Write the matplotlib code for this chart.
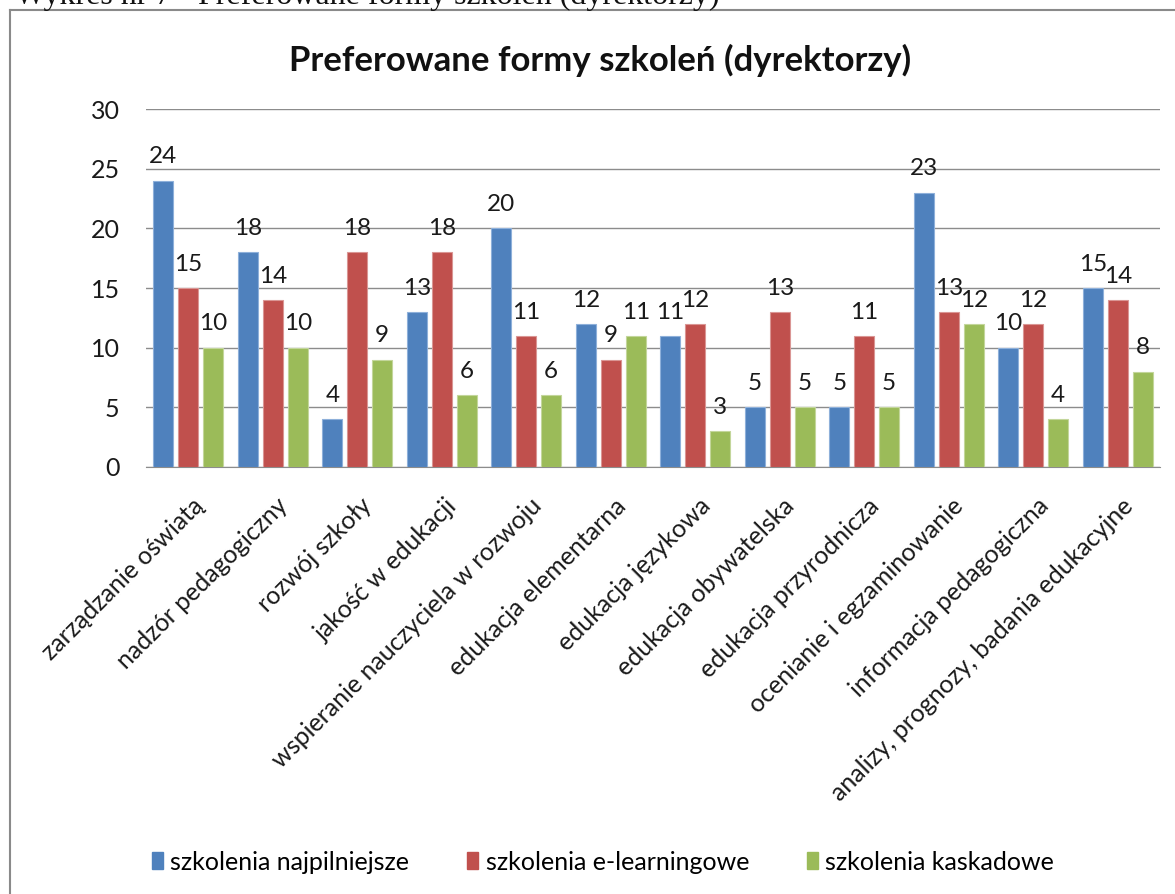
import matplotlib
matplotlib.use("Agg")
import matplotlib.pyplot as plt
import numpy as np
from matplotlib.lines import Line2D
import matplotlib.transforms as mtransforms

categories = ["zarządzanie oświatą", "nadzór pedagogiczny", "rozwój szkoły",
              "jakość w edukacji", "wspieranie nauczyciela w rozwoju",
              "edukacja elementarna", "edukacja językowa", "edukacja obywatelska",
              "edukacja przyrodnicza", "ocenianie i egzaminowanie",
              "informacja pedagogiczna", "analizy, prognozy, badania edukacyjne"]
series_names = ["szkolenia najpilniejsze", "szkolenia e-learningowe", "szkolenia kaskadowe"]
najpilniejsze = [24, 18, 4, 13, 20, 12, 11, 5, 5, 23, 10, 15]
elearning = [15, 14, 18, 18, 11, 9, 12, 13, 11, 13, 12, 14]
kaskadowe = [10, 10, 9, 6, 6, 11, 3, 5, 5, 12, 4, 8]
yticks = [0, 5, 10, 15, 20, 25, 30]

colors = ["#4F81BD", "#C0504D", "#9BBB59"]
edges = ["#8EB0DA", "#DA9694", "#C3D69B"]

plt.rcParams['font.family'] = ['Lato', 'DejaVu Sans']

W, H = 1175, 894
fig = plt.figure(figsize=(W/100, H/100), dpi=100)
ax = fig.add_axes([146/W, 1-467/H, (1160-146)/W, (467-109)/H])

x = np.arange(len(categories))
bw = 0.235
pitch = 0.295
data = [najpilniejsze, elearning, kaskadowe]
for i, (vals, c, e) in enumerate(zip(data, colors, edges)):
    pos = x + (i-1)*pitch
    ax.bar(pos, vals, width=bw, color=c, edgecolor=e, linewidth=0.8, zorder=3,
           label=series_names[i])
    for p, v in zip(pos, vals):
        ax.annotate(str(v), (p, v), xytext=(0, 9.5), textcoords='offset points',
                    ha='center', va='bottom', fontsize=17.5, color='#1a1a1a', zorder=4)

ax.set_xlim(-0.5, len(categories)-0.5)
ax.set_ylim(0, 30)
ax.set_yticks(yticks)
ax.yaxis.grid(True, color='#8c8c8c', linewidth=1, zorder=0)
for s in ['top', 'right', 'left']:
    ax.spines[s].set_visible(False)
ax.spines['bottom'].set_color('#8c8c8c')
ax.tick_params(axis='y', length=0, pad=19, labelsize=18, labelcolor='#1a1a1a')
ax.tick_params(axis='x', length=0)
ax.set_xticks(x)
ax.set_xticklabels([])
lab_tr = mtransforms.blended_transform_factory(ax.transData, ax.transAxes) + \
    mtransforms.ScaledTranslation(3/100, -27/100, fig.dpi_scale_trans)
for xi, lab in zip(x, categories):
    ax.text(xi, 0, lab, transform=lab_tr,
            rotation=45, rotation_mode='anchor', ha='right', va='top',
            fontsize=18, color='#1a1a1a')

fig.text(600/W, 1-60/H, "Preferowane formy szkoleń (dyrektorzy)", ha='center', va='center',
         fontsize=25, fontweight='bold', color='#111111')

# caption partly cut at top (as in the reference)
fig.text(15/W, 1-4/H, "Wykres nr 7 - Preferowane formy szkoleń (dyrektorzy)", ha='left',
         va='baseline', fontsize=23, family=['Liberation Serif'], color='#111111')

# frame lines
fig.add_artist(Line2D([10/W, 10/W], [0, 1-10/H], transform=fig.transFigure, color='#8a8a8a', lw=1.5))
fig.add_artist(Line2D([10/W, 1], [1-10/H, 1-10/H], transform=fig.transFigure, color='#8a8a8a', lw=1.5))

handles = [plt.Rectangle((0, 0), 1, 1, color=c) for c in colors]
fig.legend(handles, series_names, loc='center', bbox_to_anchor=(603/W, 1-862/H), ncol=3,
           frameon=False, fontsize=18, handlelength=0.45, handleheight=0.65,
           handletextpad=0.3, columnspacing=2.3)

fig.savefig("out.png", dpi=100)
